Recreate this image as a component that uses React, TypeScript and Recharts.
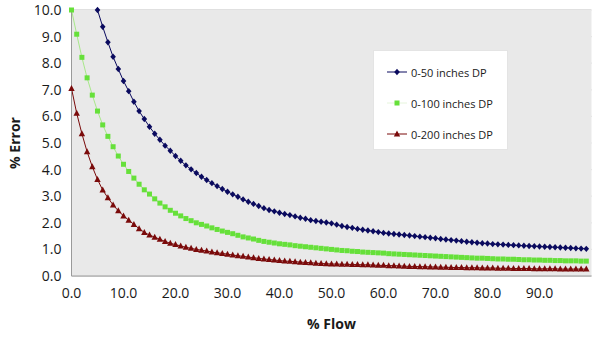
import React from 'react';
import { LineChart, Line, XAxis, YAxis, CartesianGrid } from 'recharts';

// % flow, one point per percent
const flow = Array.from({ length: 100 }, (_, i) => i);

// 0-50 inches DP (starts at 5 % flow, above 10 % before that)
const err50 = [
  null, null, null, null, null, 10.0, 9.37, 8.79, 8.24, 7.78,
  7.33, 6.95, 6.55, 6.2, 5.9, 5.61, 5.35, 5.12, 4.9, 4.71,
  4.51, 4.33, 4.16, 4.01, 3.87, 3.73, 3.61, 3.49, 3.38, 3.27,
  3.17, 3.07, 2.98, 2.88, 2.79, 2.71, 2.63, 2.55, 2.48, 2.43,
  2.38, 2.33, 2.29, 2.24, 2.19, 2.15, 2.1, 2.07, 2.04, 2.01,
  1.98, 1.93, 1.88, 1.84, 1.81, 1.77, 1.74, 1.71, 1.68, 1.65,
  1.62, 1.6, 1.58, 1.56, 1.54, 1.52, 1.5, 1.48, 1.46, 1.44,
  1.42, 1.39, 1.37, 1.35, 1.33, 1.31, 1.29, 1.27, 1.25, 1.23,
  1.22, 1.2, 1.19, 1.18, 1.17, 1.16, 1.15, 1.14, 1.13, 1.12,
  1.11, 1.1, 1.09, 1.08, 1.07, 1.06, 1.05, 1.04, 1.03, 1.02,
];

// 0-100 inches DP
const err100 = [
  10.0, 9.09, 8.22, 7.45, 6.8, 6.2, 5.68, 5.25, 4.86, 4.51,
  4.2, 3.93, 3.68, 3.45, 3.24, 3.08, 2.9, 2.74, 2.6, 2.47,
  2.36, 2.26, 2.16, 2.08, 2.0, 1.94, 1.88, 1.81, 1.75, 1.69,
  1.64, 1.59, 1.53, 1.47, 1.43, 1.39, 1.34, 1.3, 1.27, 1.24,
  1.21, 1.19, 1.17, 1.14, 1.12, 1.1, 1.08, 1.06, 1.04, 1.02,
  1.0, 0.98, 0.96, 0.95, 0.93, 0.92, 0.9, 0.89, 0.88, 0.87,
  0.86, 0.84, 0.83, 0.82, 0.81, 0.8, 0.79, 0.78, 0.77, 0.76,
  0.75, 0.74, 0.73, 0.72, 0.71, 0.7, 0.69, 0.68, 0.67, 0.67,
  0.66, 0.65, 0.64, 0.64, 0.63, 0.63, 0.62, 0.61, 0.61, 0.6,
  0.6, 0.59, 0.59, 0.58, 0.58, 0.57, 0.57, 0.57, 0.56, 0.56,
];

// 0-200 inches DP
const err200 = [
  7.05, 6.12, 5.35, 4.67, 4.11, 3.63, 3.23, 2.94, 2.67, 2.45,
  2.26, 2.1, 1.94, 1.78, 1.64, 1.54, 1.46, 1.38, 1.3, 1.23,
  1.18, 1.13, 1.08, 1.04, 1.0, 0.97, 0.94, 0.9, 0.87, 0.85,
  0.82, 0.79, 0.76, 0.74, 0.71, 0.69, 0.66, 0.64, 0.62, 0.6,
  0.58, 0.56, 0.55, 0.54, 0.52, 0.51, 0.5, 0.48, 0.47, 0.46,
  0.45, 0.45, 0.44, 0.44, 0.43, 0.43, 0.42, 0.42, 0.41, 0.4,
  0.4, 0.39, 0.39, 0.38, 0.37, 0.36, 0.36, 0.35, 0.35, 0.34,
  0.34, 0.33, 0.33, 0.32, 0.32, 0.32, 0.31, 0.31, 0.31, 0.3,
  0.3, 0.3, 0.29, 0.29, 0.29, 0.28, 0.28, 0.28, 0.28, 0.27,
  0.27, 0.27, 0.27, 0.27, 0.26, 0.26, 0.26, 0.26, 0.26, 0.26,
];

const xTicks = [0, 10, 20, 30, 40, 50, 60, 70, 80, 90];
const yTicks = [0, 1, 2, 3, 4, 5, 6, 7, 8, 9, 10];

const data = flow.map((x, i) => ({
  x,
  dp50: err50[i],
  dp100: err100[i],
  dp200: err200[i],
}));

const NAVY = '#0a0a5e';
const GREEN = '#66e03a';
const GREEN_LINE = '#a8e88a';
const RED = '#7a0a0a';

const Diamond = ({ cx, cy, color }: any) => (
  <path d={`M${cx},${cy - 3.2}L${cx + 2.8},${cy}L${cx},${cy + 3.2}L${cx - 2.8},${cy}Z`} fill={color} />
);
const Square = ({ cx, cy, color }: any) => (
  <rect x={cx - 2.5} y={cy - 2.5} width={5} height={5} fill={color} />
);
const Triangle = ({ cx, cy, color }: any) => (
  <path d={`M${cx},${cy - 3.5}L${cx + 3.2},${cy + 2.5}L${cx - 3.2},${cy + 2.5}Z`} fill={color} />
);

const makeDot = (Shape: any, color: string) => (props: any) => {
  const { cx, cy, key, value } = props;
  if (value == null || cy == null || isNaN(cy)) return <g key={key} />;
  return <Shape key={key} cx={cx} cy={cy} color={color} />;
};

const legendItems = [
  { name: '0-50 inches DP', Shape: Diamond, color: NAVY, line: NAVY },
  { name: '0-100 inches DP', Shape: Square, color: GREEN, line: '#e6f5dc' },
  { name: '0-200 inches DP', Shape: Triangle, color: RED, line: RED },
];

const font = '"Open Sans", "DejaVu Sans", sans-serif';

export default function App() {
  return (
    <div style={{ position: 'absolute', left: 0, top: 0, width: 596, height: 343, background: '#fff', fontFamily: font }}>
      <LineChart width={596} height={343} data={data} margin={{ top: 10, right: 4.5, bottom: 0, left: 1.5 }}>
        <rect x={71.5} y={10} width={520} height={266} fill="#e9e9e9" />
        <CartesianGrid vertical={false} stroke="#c2c2c2" strokeWidth={1.2} />
        <XAxis
          dataKey="x"
          type="number"
          domain={[0, 100]}
          ticks={xTicks}
          tickFormatter={(v: number) => v.toFixed(1)}
          tickLine={false}
          tickSize={0}
          tickMargin={12}
          height={67}
          stroke="#9a9a9a"
          tick={{ fill: '#1a1a1a', fontSize: 14, fontFamily: font }}
          label={{ value: '% Flow', position: 'insideBottom', offset: 14, fill: '#1a1a1a', fontSize: 14, fontWeight: 700, fontFamily: font }}
        />
        <YAxis
          type="number"
          domain={[0, 10]}
          ticks={yTicks}
          tickFormatter={(v: number) => v.toFixed(1)}
          tickLine={false}
          tickSize={0}
          tickMargin={10}
          width={70}
          stroke="#9a9a9a"
          tick={{ fill: '#1a1a1a', fontSize: 14, fontFamily: font }}
          label={{ value: '% Error', angle: -90, position: 'insideLeft', offset: 14, fill: '#1a1a1a', fontSize: 14, fontWeight: 700, fontFamily: font, style: { textAnchor: 'middle' } }}
        />
        <Line type="linear" dataKey="dp200" stroke={RED} strokeWidth={1} dot={makeDot(Triangle, RED)} isAnimationActive={false} />
        <Line type="linear" dataKey="dp100" stroke={GREEN_LINE} strokeWidth={1} dot={makeDot(Square, GREEN)} isAnimationActive={false} />
        <Line type="linear" dataKey="dp50" stroke={NAVY} strokeWidth={1} dot={makeDot(Diamond, NAVY)} isAnimationActive={false} connectNulls={false} />
      </LineChart>
      <div
        style={{
          position: 'absolute',
          left: 373,
          top: 50,
          width: 135,
          height: 100,
          background: '#fff',
          border: '1px solid #e4e4e4',
          boxSizing: 'border-box',
        }}
      >
        {legendItems.map((it, i) => (
          <div key={it.name} style={{ position: 'absolute', left: 13, top: 13 + i * 31, height: 16, display: 'flex', alignItems: 'center' }}>
            <svg width={22} height={16}>
              <line x1={0} y1={8} x2={20} y2={8} stroke={it.line} strokeWidth={1} />
              <it.Shape cx={10} cy={8} color={it.color} />
            </svg>
            <span style={{ fontSize: 11, color: '#1a1a1a', marginLeft: 2, whiteSpace: 'nowrap' }}>{it.name}</span>
          </div>
        ))}
      </div>
    </div>
  );
}
